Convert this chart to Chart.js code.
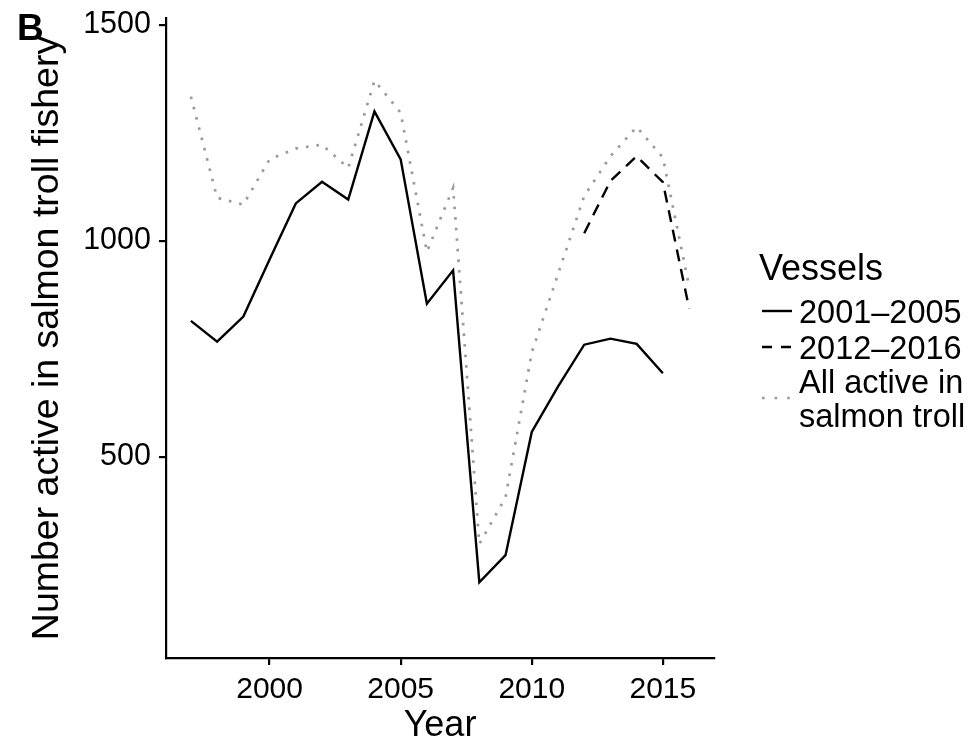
<!DOCTYPE html>
<html>
<head>
<meta charset="utf-8">
<script src="https://cdn.jsdelivr.net/npm/chart.js@4.4.1/dist/chart.umd.min.js"></script>
<style>
  html, body { margin: 0; padding: 0; background: #ffffff; }
  #c { display: block; }
</style>
</head>
<body>
<canvas id="c" width="972" height="745" style="width:972px;height:745px"></canvas>
<script>
// Vessels active in the salmon troll fishery, by year
const years = [1997, 1998, 1999, 2000, 2001, 2002, 2003, 2004, 2005, 2006,
               2007, 2008, 2009, 2010, 2011, 2012, 2013, 2014, 2015, 2016];
// vessels that were active 2001–2005
const vessels2001to2005 = [815, 767, 825, 957, 1087, 1137, 1096, 1300, 1189, 855,
                           932, 210, 273, 558, 663, 760, 774, 762, 694, null];
// vessels that were active 2012–2016
const vessels2012to2016 = [null, null, null, null, null, null, null, null, null, null,
                           null, null, null, null, null, 1018, 1139, 1196, 1136, 844];
// all vessels active in salmon troll
const allActive = [1334, 1100, 1084, 1189, 1214, 1223, 1169, 1371, 1297, 975,
                   1123, 299, 407, 742, 923, 1104, 1196, 1264, 1193, 895];

const xTickValues = [2000, 2005, 2010, 2015];
const yTickValues = [500, 1000, 1500];
const seriesLabels = ['2001\u20132005', '2012\u20132016', ['All active in', 'salmon troll']];

const FONT = '"Liberation Sans", Arial, Helvetica, sans-serif';

const toPoints = vals => years.map((yr, i) => ({ x: yr, y: vals[i] }));

const DOTS = [2.6, 8];
const DASHES = [12, 8];

const datasets = [
  {
    label: seriesLabels[2].join(' '),
    data: toPoints(allActive),
    borderColor: '#9a9a9a',
    borderWidth: 2.7,
    borderDash: DOTS,
    order: 3
  },
  {
    label: seriesLabels[0],
    data: toPoints(vessels2001to2005),
    borderColor: '#000000',
    borderWidth: 2.4,
    order: 1
  },
  {
    label: seriesLabels[1],
    data: toPoints(vessels2012to2016),
    borderColor: '#000000',
    borderWidth: 2.4,
    borderDash: DASHES,
    order: 2
  }
];
datasets.forEach(d => {
  d.pointRadius = 0;
  d.pointHoverRadius = 0;
  d.tension = 0;
  d.fill = false;
  d.spanGaps = false;
});

// legend entries in the order they are listed
const legendOrder = [1, 2, 0];

const overlay = {
  id: 'overlay',
  afterDraw(chart) {
    const ctx = chart.ctx;
    ctx.save();
    ctx.fillStyle = '#000';
    ctx.textBaseline = 'alphabetic';
    ctx.textAlign = 'left';

    // panel tag
    ctx.font = 'bold 37px ' + FONT;
    ctx.fillText('B', 17, 40);

    // legend
    ctx.font = '36px ' + FONT;
    ctx.fillText('Vessels', 759, 280);

    ctx.font = '32.5px ' + FONT;
    const rows = [
      { lines: [seriesLabels[0]], baseline: [322.5], sampleY: 311, dash: [] },
      { lines: [seriesLabels[1]], baseline: [358.5], sampleY: 347, dash: [10, 9] },
      { lines: seriesLabels[2], baseline: [393, 427], sampleY: 398, dash: [2.6, 10] }
    ];
    rows.forEach((row, k) => {
      const ds = chart.data.datasets[legendOrder[k]];
      ctx.save();
      ctx.strokeStyle = ds.borderColor;
      ctx.lineWidth = ds.borderWidth;
      ctx.setLineDash(row.dash);
      ctx.beginPath();
      ctx.moveTo(762, row.sampleY);
      ctx.lineTo(792, row.sampleY);
      ctx.stroke();
      ctx.restore();
      row.lines.forEach((t, j) => ctx.fillText(t, 799, row.baseline[j]));
    });
    ctx.restore();
  }
};

new Chart(document.getElementById('c'), {
  type: 'line',
  data: { datasets },
  plugins: [overlay],
  options: {
    responsive: false,
    animation: false,
    devicePixelRatio: 1,
    layout: { padding: { left: 0, top: 18, right: 258, bottom: 0 } },
    plugins: {
      legend: { display: false },
      tooltip: { enabled: false }
    },
    scales: {
      x: {
        type: 'linear',
        min: 1996.05,
        max: 2016.95,
        afterBuildTicks: s => { s.ticks = xTickValues.map(v => ({ value: v })); },
        afterFit: s => { s.height = 87; s.paddingLeft = 0; s.paddingRight = 0; },
        ticks: {
          color: '#000',
          font: { family: FONT, size: 30 },
          padding: 7,
          maxRotation: 0,
          autoSkip: false,
          callback: v => String(v)
        },
        grid: { drawOnChartArea: false, drawTicks: true, tickLength: 7, color: '#000', lineWidth: 2.2 },
        border: { display: true, color: '#000', width: 2.2 },
        title: {
          display: true,
          text: 'Year',
          color: '#000',
          font: { family: FONT, size: 36 },
          padding: { top: 0, bottom: -3 }
        }
      },
      y: {
        type: 'linear',
        min: 35,
        max: 1516,
        afterBuildTicks: s => { s.ticks = yTickValues.map(v => ({ value: v })); },
        afterFit: s => { s.width = 166; s.paddingTop = 0; s.paddingBottom = 0; },
        ticks: {
          color: '#000',
          font: { family: FONT, size: 30.5 },
          padding: 8,
          autoSkip: false,
          callback: v => String(v)
        },
        grid: { drawOnChartArea: false, drawTicks: true, tickLength: 7, color: '#000', lineWidth: 2.2 },
        border: { display: true, color: '#000', width: 2.2 },
        title: {
          display: true,
          text: 'Number active in salmon troll fishery',
          color: '#000',
          font: { family: FONT, size: 37.5 },
          padding: { top: 25, bottom: 0 }
        }
      }
    }
  }
});
</script>
</body>
</html>
